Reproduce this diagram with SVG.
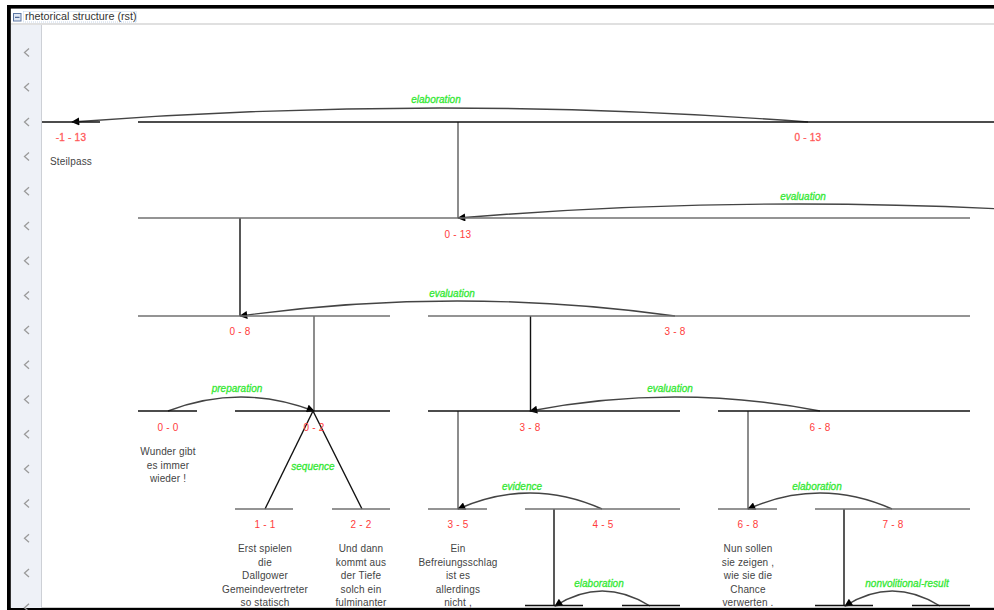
<svg xmlns="http://www.w3.org/2000/svg" width="994" height="610" viewBox="0 0 994 610">
<style>
.ln{stroke:#111;stroke-width:1.4;fill:none}
.lg{stroke:#707070;stroke-width:1.6;fill:none}
.arc{stroke:#444;stroke-width:1.4;fill:none;marker-end:url(#ah)}
.sp{font-family:"Liberation Sans",Arial,sans-serif;font-size:10px;fill:#ff3b3b;text-anchor:middle;letter-spacing:0.2px}
.spb{fill:#ff4a4a;stroke:#ff6a6a;stroke-width:0.3}
.rel{font-family:"Liberation Sans",Arial,sans-serif;font-size:10px;font-style:italic;fill:#33e833;stroke:#33e833;stroke-width:0.3;text-anchor:middle}
.tx{font-family:"Liberation Sans",Arial,sans-serif;font-size:10px;fill:#444;text-anchor:middle;letter-spacing:0.15px}
.chev{stroke:#9a9a9a;stroke-width:1.3;fill:none}
</style>
<defs>
<marker id="ah" viewBox="0 0 10 10" refX="9" refY="5" markerWidth="10" markerHeight="8" markerUnits="userSpaceOnUse" orient="auto">
<path d="M0,0 L10,5 L0,10 z" fill="#000"/>
</marker>
</defs>
<rect x="0" y="0" width="994" height="610" fill="#fff"/>
<g id="frame">
<rect x="7" y="5" width="987" height="3.6" fill="#000"/>
<rect x="7" y="5" width="3.8" height="605" fill="#000"/>
<rect x="7" y="607.8" width="987" height="2.2" fill="#000"/>
<rect x="11" y="25" width="30" height="583" fill="#eef1f7"/>
<line x1="41.5" y1="25" x2="41.5" y2="608" stroke="#cdd0d6" stroke-width="1"/>
<line x1="11" y1="24" x2="994" y2="24" stroke="#d6d6d6" stroke-width="1.6"/>
<rect x="13.5" y="13.5" width="7.5" height="7.5" fill="#dfe7f3" stroke="#5d77a3" stroke-width="1"/>
<line x1="15" y1="17.3" x2="19.5" y2="17.3" stroke="#2d4b80" stroke-width="1"/>
<rect x="23.5" y="11.5" width="113" height="10.5" fill="none" stroke="#b9cce6" stroke-width="0.8" stroke-dasharray="1,1"/>
<text x="25" y="19.5" font-family="Liberation Sans,Arial,sans-serif" font-size="10.8" fill="#333">rhetorical structure (rst)</text>
</g>
<g id="gutter">
<polyline class="chev" points="29,48.5 24.5,52.5 29,56.5"/>
<polyline class="chev" points="29,83.2 24.5,87.2 29,91.2"/>
<polyline class="chev" points="29,117.9 24.5,121.9 29,125.9"/>
<polyline class="chev" points="29,152.6 24.5,156.6 29,160.6"/>
<polyline class="chev" points="29,187.3 24.5,191.3 29,195.3"/>
<polyline class="chev" points="29,222 24.5,226 29,230"/>
<polyline class="chev" points="29,256.7 24.5,260.7 29,264.7"/>
<polyline class="chev" points="29,291.4 24.5,295.4 29,299.4"/>
<polyline class="chev" points="29,326.1 24.5,330.1 29,334.1"/>
<polyline class="chev" points="29,360.8 24.5,364.8 29,368.8"/>
<polyline class="chev" points="29,395.5 24.5,399.5 29,403.5"/>
<polyline class="chev" points="29,430.2 24.5,434.2 29,438.2"/>
<polyline class="chev" points="29,464.9 24.5,468.9 29,472.9"/>
<polyline class="chev" points="29,499.6 24.5,503.6 29,507.6"/>
<polyline class="chev" points="29,534.3 24.5,538.3 29,542.3"/>
<polyline class="chev" points="29,569 24.5,573 29,577"/>
<polyline class="chev" points="29,603.7 24.5,607.7 29,611.7"/>
</g>
<g id="connectors">
<line class="lg" x1="458" y1="122" x2="458" y2="218"/>
<line class="ln" x1="240" y1="218" x2="240" y2="316"/>
<line class="lg" x1="314" y1="316" x2="314" y2="411"/>
<line class="ln" x1="530.5" y1="316" x2="530.5" y2="411"/>
<line class="lg" x1="458" y1="411" x2="458" y2="509"/>
<line class="lg" x1="748" y1="411" x2="748" y2="509"/>
<line class="ln" x1="554" y1="509" x2="554" y2="606"/>
<line class="ln" x1="844" y1="509" x2="844" y2="606"/>
<line class="ln" x1="313" y1="411" x2="265" y2="509"/>
<line class="ln" x1="313" y1="411" x2="362" y2="509"/>
<path class="arc" d="M808,122 Q440,94 72,122"/>
<path class="arc" d="M1140,218 Q799,190 458,218"/>
<path class="arc" d="M675,316 Q457,286 240,316"/>
<path class="arc" d="M168,411 Q241,383 314,411"/>
<path class="arc" d="M820,411 Q675,383 530,411"/>
<path class="arc" d="M602,509 Q530,477 458,509"/>
<path class="arc" d="M892,509 Q820,477 748,509"/>
<path class="arc" d="M650,606 Q602,576 555,606"/>
<path class="arc" d="M940,606 Q892,576 845,606"/>
<text class="rel" x="436" y="103">elaboration</text>
<text class="rel" x="803" y="200">evaluation</text>
<text class="rel" x="452" y="297">evaluation</text>
<text class="rel" x="237" y="392">preparation</text>
<text class="rel" x="670" y="392">evaluation</text>
<text class="rel" x="313" y="470">sequence</text>
<text class="rel" x="522" y="490">evidence</text>
<text class="rel" x="817" y="490">elaboration</text>
<text class="rel" x="599" y="587">elaboration</text>
<text class="rel" x="907" y="587">nonvolitional-result</text>
</g>
<g id="n-1-13">
<line class="ln" x1="42" y1="122" x2="100" y2="122"/>
<text class="sp spb" x="71" y="141">-1 - 13</text>
<text class="tx" x="71" y="165">Steilpass</text>
</g>
<g id="n0-13a">
<line class="ln" x1="138" y1="122" x2="994" y2="122"/>
<text class="sp spb" x="808" y="141">0 - 13</text>
</g>
<g id="n0-13b">
<line class="lg" x1="138" y1="218" x2="970" y2="218"/>
<text class="sp" x="458" y="238">0 - 13</text>
</g>
<g id="n0-8">
<line class="lg" x1="138" y1="316" x2="390" y2="316"/>
<text class="sp" x="240" y="335">0 - 8</text>
</g>
<g id="n3-8a">
<line class="lg" x1="428" y1="316" x2="970" y2="316"/>
<text class="sp" x="675" y="335">3 - 8</text>
</g>
<g id="n0-0">
<line class="ln" x1="138" y1="411" x2="197" y2="411"/>
<text class="sp" x="168" y="431">0 - 0</text>
<text class="tx" x="168" y="455">Wunder gibt</text>
<text class="tx" x="168" y="468.5">es immer</text>
<text class="tx" x="168" y="482">wieder !</text>
</g>
<g id="n0-2">
<line class="ln" x1="235" y1="411" x2="390" y2="411"/>
<text class="sp" x="314" y="431">0 - 2</text>
</g>
<g id="n3-8b">
<line class="ln" x1="428" y1="411" x2="680" y2="411"/>
<text class="sp" x="530" y="431">3 - 8</text>
</g>
<g id="n6-8a">
<line class="ln" x1="718" y1="411" x2="970" y2="411"/>
<text class="sp" x="820" y="431">6 - 8</text>
</g>
<g id="n1-1">
<line class="lg" x1="235" y1="509" x2="293" y2="509"/>
<text class="sp" x="265" y="528">1 - 1</text>
<text class="tx" x="265" y="552">Erst spielen</text>
<text class="tx" x="265" y="565.5">die</text>
<text class="tx" x="265" y="579">Dallgower</text>
<text class="tx" x="265" y="592.5">Gemeindevertreter</text>
<text class="tx" x="265" y="606">so statisch</text>
</g>
<g id="n2-2">
<line class="lg" x1="332" y1="509" x2="390" y2="509"/>
<text class="sp" x="361" y="528">2 - 2</text>
<text class="tx" x="361" y="552">Und dann</text>
<text class="tx" x="361" y="565.5">kommt aus</text>
<text class="tx" x="361" y="579">der Tiefe</text>
<text class="tx" x="361" y="592.5">solch ein</text>
<text class="tx" x="361" y="606">fulminanter</text>
</g>
<g id="n3-5">
<line class="lg" x1="428" y1="509" x2="487" y2="509"/>
<text class="sp" x="458" y="528">3 - 5</text>
<text class="tx" x="458" y="552">Ein</text>
<text class="tx" x="458" y="565.5">Befreiungsschlag</text>
<text class="tx" x="458" y="579">ist es</text>
<text class="tx" x="458" y="592.5">allerdings</text>
<text class="tx" x="458" y="606">nicht ,</text>
</g>
<g id="n4-5">
<line class="lg" x1="525" y1="509" x2="680" y2="509"/>
<text class="sp" x="603" y="528">4 - 5</text>
</g>
<g id="n6-8b">
<line class="lg" x1="718" y1="509" x2="777" y2="509"/>
<text class="sp" x="748" y="528">6 - 8</text>
<text class="tx" x="748" y="552">Nun sollen</text>
<text class="tx" x="748" y="565.5">sie zeigen ,</text>
<text class="tx" x="748" y="579">wie sie die</text>
<text class="tx" x="748" y="592.5">Chance</text>
<text class="tx" x="748" y="606">verwerten .</text>
</g>
<g id="n7-8">
<line class="lg" x1="815" y1="509" x2="970" y2="509"/>
<text class="sp" x="893" y="528">7 - 8</text>
</g>
<g id="n4-4">
<line class="ln" x1="525" y1="605.5" x2="583" y2="605.5"/>
</g>
<g id="n5-5">
<line class="ln" x1="622" y1="605.5" x2="680" y2="605.5"/>
</g>
<g id="n7-7">
<line class="ln" x1="815" y1="605.5" x2="873" y2="605.5"/>
</g>
<g id="n8-8">
<line class="ln" x1="912" y1="605.5" x2="970" y2="605.5"/>
</g>
</svg>
